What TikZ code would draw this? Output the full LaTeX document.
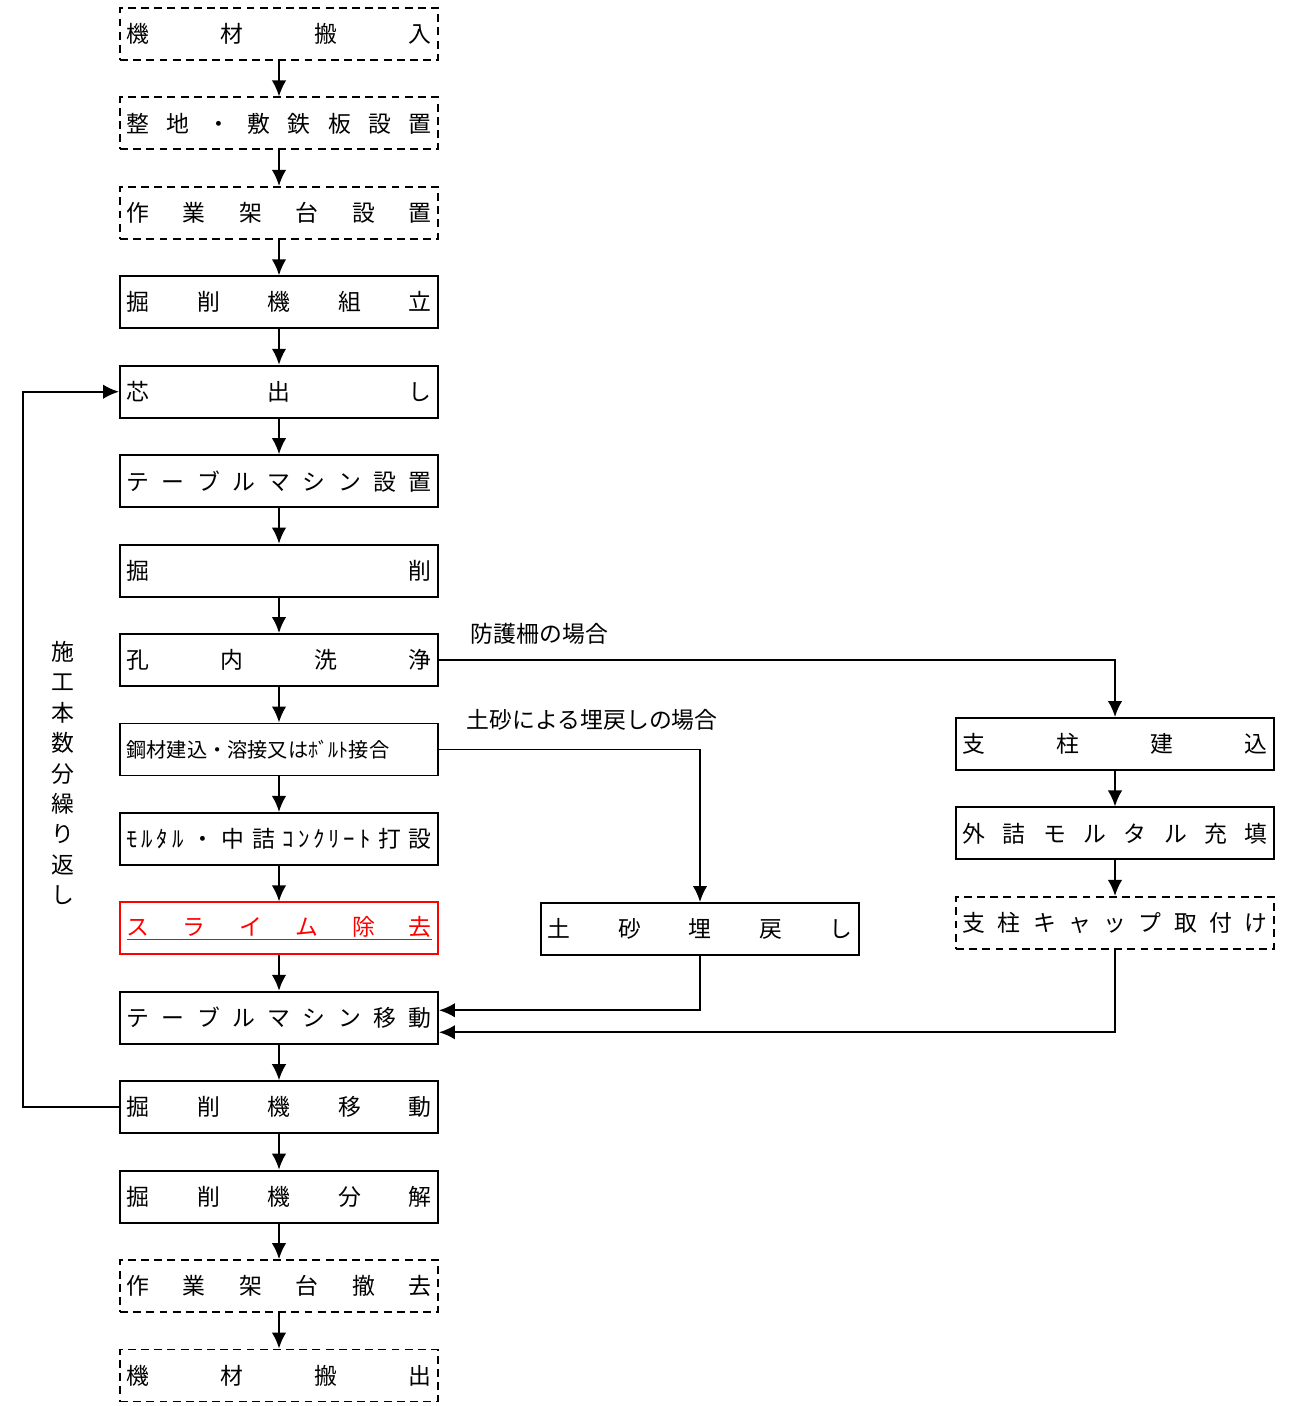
\documentclass[tikz,border=0pt]{standalone}
\usepackage{fontspec}
\newfontfamily\jpfont{Noto Sans CJK JP}
\usetikzlibrary{positioning,arrows.meta}
\newcommand{\spreadtxt}[1]{\makebox[6.1cm]{#1}}

\begin{document}
\begin{tikzpicture}[line width=1.1pt,>={Latex[length=3.2mm,width=2.9mm]},
    node distance=0.71cm,
    proc/.style={draw,minimum width=6.36cm,minimum height=1.04cm,inner sep=0pt,
        font=\jpfont\fontsize{13}{16}\selectfont},
    dash box/.style={proc,dash pattern=on 4.5pt off 3pt},
    note/.style={anchor=west,inner sep=0pt,font=\jpfont\fontsize{13}{16}\selectfont}]

    \useasboundingbox (0,0) rectangle (25.98,-28.12);

    % main column
    \node[dash box] (kizaiin) at (5.58,-0.68) {\spreadtxt{機\hfill 材\hfill 搬\hfill 入}};
    \node[dash box,below=of kizaiin] (seichi) {\spreadtxt{整\hfill 地\hfill ・\hfill 敷\hfill 鉄\hfill 板\hfill 設\hfill 置}};
    \node[dash box,below=of seichi] (kadai) {\spreadtxt{作\hfill 業\hfill 架\hfill 台\hfill 設\hfill 置}};
    \node[proc,below=of kadai] (kumitate) {\spreadtxt{掘\hfill 削\hfill 機\hfill 組\hfill 立}};
    \node[proc,below=of kumitate] (shinda) {\spreadtxt{芯\hfill 出\hfill し}};
    \node[proc,below=of shinda] (tbset) {\spreadtxt{テ\hfill ー\hfill ブ\hfill ル\hfill マ\hfill シ\hfill ン\hfill 設\hfill 置}};
    \node[proc,below=of tbset] (kussaku) {\spreadtxt{掘\hfill 削}};
    \node[proc,below=of kussaku] (senjo) {\spreadtxt{孔\hfill 内\hfill 洗\hfill 浄}};
    \node[proc,below=of senjo] (kozai) {\spreadtxt{\fontsize{11.5}{14}\selectfont 鋼材建込・溶接又はﾎﾞﾙﾄ接合\hfill}};
    \node[proc,below=of kozai] (mortar) {\spreadtxt{ﾓ\,ﾙ\,ﾀ\,ﾙ\hfill ・\hfill 中\hfill 詰\hfill ｺ\,ﾝ\,ｸ\,ﾘ\,ｰ\,ﾄ\hfill 打\hfill 設}};
    \node[proc,draw=red,text=red,below=of mortar] (slime) {\underline{\spreadtxt{ス\hfill ラ\hfill イ\hfill ム\hfill 除\hfill 去}}};
    \node[proc,below=of slime] (tbmove) {\spreadtxt{テ\hfill ー\hfill ブ\hfill ル\hfill マ\hfill シ\hfill ン\hfill 移\hfill 動}};
    \node[proc,below=of tbmove] (kmove) {\spreadtxt{掘\hfill 削\hfill 機\hfill 移\hfill 動}};
    \node[proc,below=of kmove] (bunkai) {\spreadtxt{掘\hfill 削\hfill 機\hfill 分\hfill 解}};
    \node[dash box,below=of bunkai] (tekkyo) {\spreadtxt{作\hfill 業\hfill 架\hfill 台\hfill 撤\hfill 去}};
    \node[dash box,below=of tekkyo] (kizaiout) {\spreadtxt{機\hfill 材\hfill 搬\hfill 出}};

    % side branches
    \node[proc] (shichu) at (22.3,-14.88) {\spreadtxt{支\hfill 柱\hfill 建\hfill 込}};
    \node[proc,below=of shichu] (sotozume) {\spreadtxt{外\hfill 詰\hfill モ\hfill ル\hfill タ\hfill ル\hfill 充\hfill 填}};
    \node[dash box,below=of sotozume] (cap) {\spreadtxt{支\hfill 柱\hfill キ\hfill ャ\hfill ッ\hfill プ\hfill 取\hfill 付\hfill け}};
    \node[proc] (umemodoshi) at (14.0,-18.58) {\spreadtxt{土\hfill 砂\hfill 埋\hfill 戻\hfill し}};

    \node[note] (bogosaku) at (9.4,-12.68) {防護柵の場合};
    \node[note] (dosha) at (9.32,-14.4) {土砂による埋戻しの場合};
    \node[align=center,inner sep=0pt,font=\jpfont\fontsize{13}{17.3}\selectfont] (kurikaeshi) at (1.26,-15.46)
        {施\\工\\本\\数\\分\\繰\\り\\返\\し};
    \coordinate (loopx) at (0.46,0);

    % arrows
    \foreach \a/\b in {kizaiin/seichi,seichi/kadai,kadai/kumitate,kumitate/shinda,
        shinda/tbset,tbset/kussaku,kussaku/senjo,senjo/kozai,kozai/mortar,mortar/slime,
        slime/tbmove,tbmove/kmove,kmove/bunkai,bunkai/tekkyo,tekkyo/kizaiout,
        shichu/sotozume,sotozume/cap}
        \draw[->] (\a) -- (\b);
    \draw[->] (senjo.east) -| (shichu.north);
    \draw[->] (kozai.east) -| (umemodoshi.north);
    \draw[->] (umemodoshi.south) |- ([yshift=0.15cm]tbmove.east);
    \draw[->] (cap.south) |- ([yshift=-0.29cm]tbmove.east);
    \draw[->] (kmove.west) -- (kmove.west -| loopx) |- (shinda.west);

\end{tikzpicture}
\end{document}
